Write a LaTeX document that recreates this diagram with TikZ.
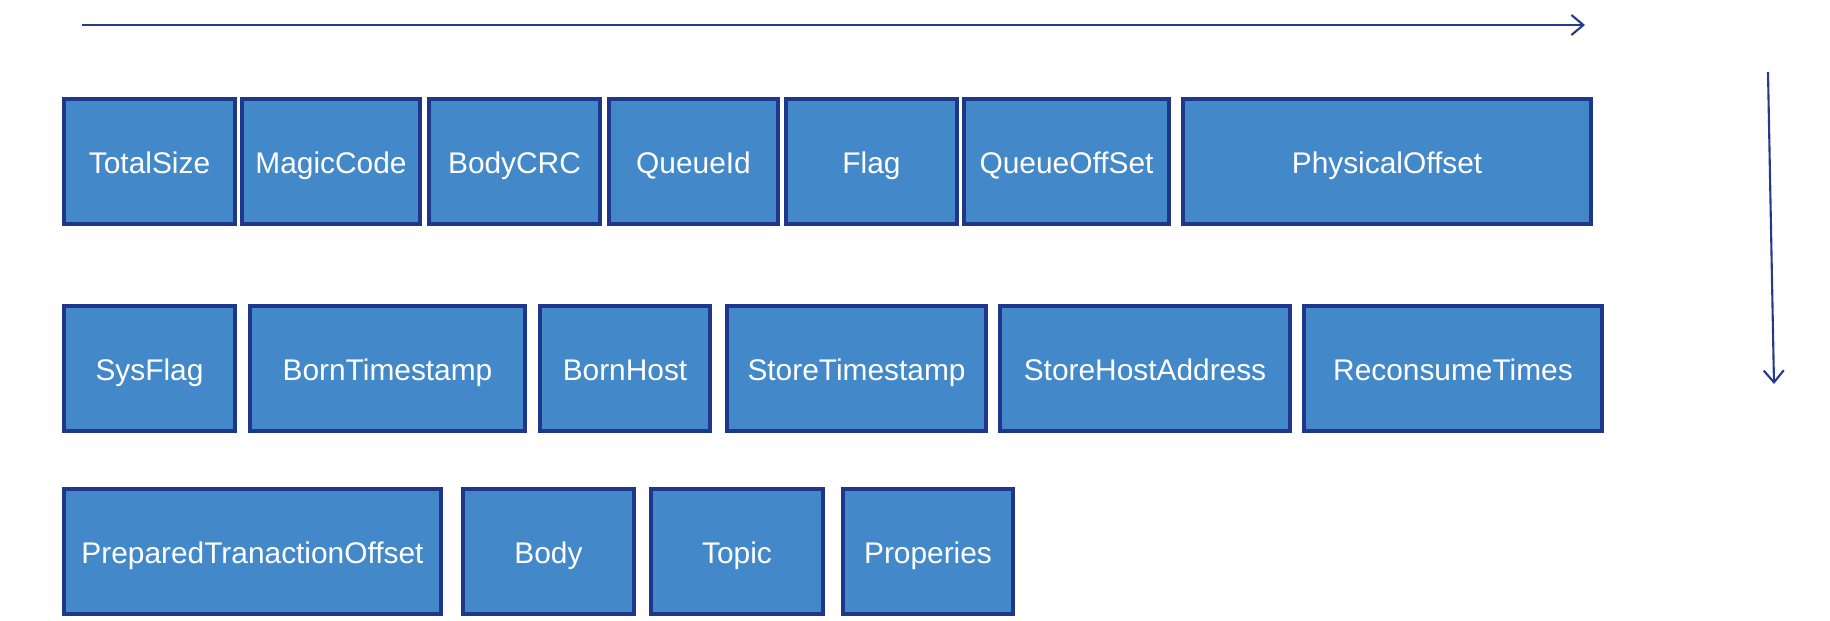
\documentclass[tikz,border=0pt]{standalone}
\usepackage{fontspec}
\setmainfont{Liberation Sans}
\usetikzlibrary{arrows.meta}

\definecolor{fieldfill}{RGB}{67,136,201}
\definecolor{fieldline}{RGB}{31,55,138}
\definecolor{arrowline}{RGB}{36,58,140}

\tikzset{
  fieldbox/.style={draw=fieldline, fill=fieldfill, line width=1.8pt,
    text=white, font=\fontsize{17}{20}\selectfont, inner sep=0pt,
    text height=14.2pt, text depth=0pt,
    outer sep=0pt, rectangle},
  flowarrow/.style={draw=arrowline, line width=1.2pt,
    -{Straight Barb[length=6.8pt, width=11.4pt, line width=1.2pt]}}
}

% one record field: name, left, right, top, bottom (px), label
\newcommand\recfield[6]{%
  \node[fieldbox, minimum width={(#3-#2)*0.02cm}, minimum height={(#5-#4)*0.02cm}]
    (#1) at ({(#2+#3)/2},{(#4+#5)/2}) {#6};}

\begin{document}
\begin{tikzpicture}[x=0.02cm, y=-0.02cm]
  \useasboundingbox (0,0) rectangle (1830,620);

  % reading direction: left to right, then top to bottom
  \coordinate (hstart) at (82,25);
  \coordinate (hend) at (1585,25);
  \coordinate (vstart) at (1768,72);
  \coordinate (vend) at (1774,384);
  \draw[flowarrow] (hstart) -- (hend);
  \draw[flowarrow] (vstart) -- (vend);

  % first row
  \recfield{totalsize}{64}{235}{99}{224}{TotalSize}
  \recfield{magiccode}{242}{420}{99}{224}{MagicCode}
  \recfield{bodycrc}{429}{600}{99}{224}{BodyCRC}
  \recfield{queueid}{609}{778}{99}{224}{QueueId}
  \recfield{flag}{786}{957}{99}{224}{Flag}
  \recfield{queueoffset}{964}{1169}{99}{224}{QueueOffSet}
  \recfield{physicaloffset}{1183}{1591}{99}{224}{PhysicalOffset}

  % second row
  \recfield{sysflag}{64}{235}{306}{431}{SysFlag}
  \recfield{borntimestamp}{250}{525}{306}{431}{BornTimestamp}
  \recfield{bornhost}{540}{710}{306}{431}{BornHost}
  \recfield{storetimestamp}{727}{986}{306}{431}{StoreTimestamp}
  \recfield{storehostaddress}{1000}{1290}{306}{431}{StoreHostAddress}
  \recfield{reconsumetimes}{1304}{1602}{306}{431}{ReconsumeTimes}

  % third row
  \recfield{preparedoffset}{64}{441}{489}{614}{PreparedTranactionOffset}
  \recfield{body}{463}{634}{489}{614}{Body}
  \recfield{topic}{651}{823}{489}{614}{Topic}
  \recfield{properies}{843}{1013}{489}{614}{Properies}
\end{tikzpicture}
\end{document}
